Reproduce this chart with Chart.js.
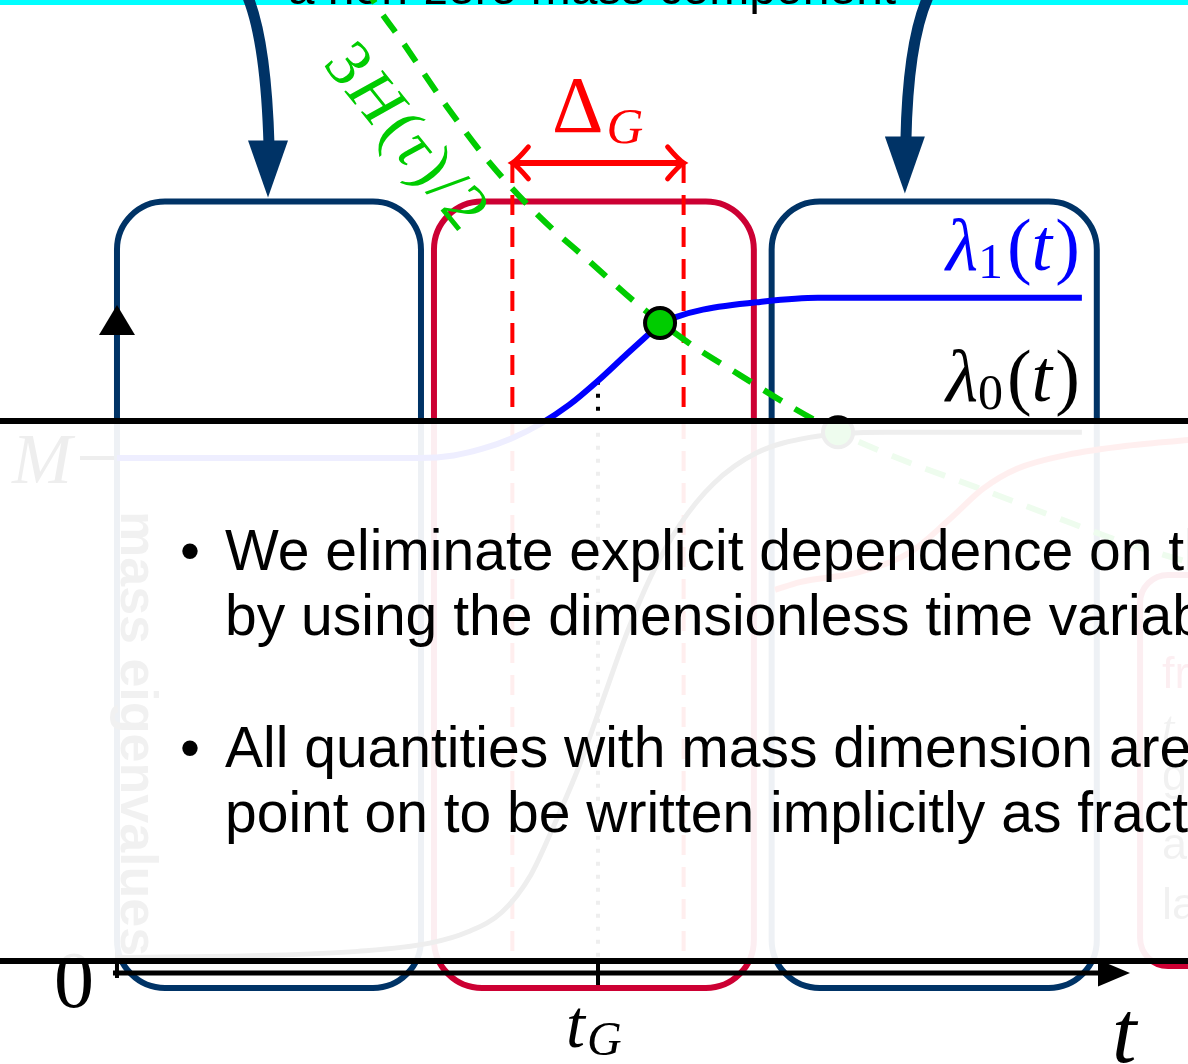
<!DOCTYPE html>
<html>
<head>
<meta charset="utf-8">
<script src="https://cdn.jsdelivr.net/npm/chart.js@4.4.1/dist/chart.umd.min.js"></script>
<style>
  html, body { margin: 0; padding: 0; background: #fff; }
  canvas { display: block; }
</style>
</head>
<body>
<canvas id="stages" width="1188" height="1064"></canvas>
<script>
// time in units of t_G, mass eigenvalues in units of M
const tG = 1.0;
const deltaG = 0.356;
const massM = 1.0;

// heavy eigenvalue lambda_1(t)
const lambda1T = [0, 0.63, 0.70, 0.76, 0.82, 0.88, 0.94, 1.00, 1.06, 1.10, 1.129, 1.16, 1.218, 1.337, 1.457, 2.006];
const lambda1V = [1.0, 1.0, 1.005, 1.018, 1.038, 1.066, 1.103, 1.150, 1.202, 1.236, 1.260, 1.273, 1.288, 1.303, 1.311, 1.311];

// light eigenvalue lambda_0(t)
const lambda0T = [0, 0.30, 0.50, 0.65, 0.73, 0.80, 0.86, 0.91, 0.96, 1.01, 1.06, 1.11, 1.17, 1.24, 1.33, 1.44, 1.60, 2.006];
const lambda0V = [0.030, 0.034, 0.042, 0.058, 0.080, 0.118, 0.190, 0.290, 0.400, 0.530, 0.660, 0.770, 0.870, 0.950, 1.010, 1.040, 1.050, 1.050];

// next stage eigenvalue
const lambda2T = [1.368, 1.420, 1.545, 1.649, 1.732, 1.800, 1.871, 1.975, 2.112, 2.227, 2.30];
const lambda2V = [0.744, 0.759, 0.779, 0.817, 0.882, 0.940, 0.979, 1.006, 1.025, 1.035, 1.040];

// 3H(tau)/2
const hubbleT = [0.515, 0.530, 0.595, 0.686, 0.775, 0.879, 0.983, 1.087, 1.191, 1.295, 1.399, 1.499, 1.628, 1.784, 1.940, 2.096, 2.227];
const hubbleV = [1.920, 1.893, 1.806, 1.682, 1.573, 1.468, 1.381, 1.295, 1.222, 1.161, 1.101, 1.050, 0.998, 0.944, 0.889, 0.835, 0.798];

// where 3H/2 meets the eigenvalues
const crossT = [1.129, 1.499];
const crossV = [1.262, 1.050];

const navy = '#003366';
const crimson = '#cc0033';
const green = '#00cc00';
const serif = '"Liberation Serif", "DejaVu Serif", serif';
const sans = '"Liberation Sans", Arial, sans-serif';

// stage frames, in t units
const stages = [
  { t0: 0.0, t1: 0.632, color: navy },
  { t0: 0.659, t1: 1.324, color: crimson },
  { t0: 1.361, t1: 2.037, color: navy }
];
const boxTopV = 1.498;
const boxBottomV = -0.029;
const axisTopV = 1.297;
const axisEndT = 2.106;
const deltaArrowV = 1.573;
const guideEndV = 0.025;

const zip = (ts, vs) => ts.map((t, i) => ({ x: t, y: vs[i] }));

function runs(ctx, x, y, parts, color) {
  ctx.fillStyle = color;
  ctx.textAlign = 'left';
  ctx.textBaseline = 'alphabetic';
  for (const p of parts) {
    ctx.font = p.f;
    ctx.fillText(p.s, x, y + (p.dy || 0));
    x += ctx.measureText(p.s).width + (p.gap || 0);
  }
}

function roundBox(ctx, x0, y0, x1, y1, r) {
  ctx.beginPath();
  ctx.moveTo(x0 + r, y0);
  ctx.arcTo(x1, y0, x1, y1, r);
  ctx.arcTo(x1, y1, x0, y1, r);
  ctx.arcTo(x0, y1, x0, y0, r);
  ctx.arcTo(x0, y0, x1, y0, r);
  ctx.closePath();
  ctx.stroke();
}

function triangle(ctx, a, b, c) {
  ctx.beginPath();
  ctx.moveTo(a[0], a[1]);
  ctx.lineTo(b[0], b[1]);
  ctx.lineTo(c[0], c[1]);
  ctx.closePath();
  ctx.fill();
}

function bentArrow(ctx, sx, cx, tip, color) {
  ctx.strokeStyle = color;
  ctx.fillStyle = color;
  ctx.lineWidth = 11;
  ctx.beginPath();
  ctx.moveTo(tip[0] + sx, -5);
  ctx.quadraticCurveTo(tip[0] + cx, 40, tip[0] + 1, tip[1] - 52);
  ctx.stroke();
  triangle(ctx, [tip[0] - 20, tip[1] - 57], [tip[0] + 20, tip[1] - 57], tip);
}

const diagram = {
  id: 'diagram',
  beforeDraw(chart) {
    const ctx = chart.ctx;
    ctx.save();
    ctx.fillStyle = '#fff';
    ctx.fillRect(0, 0, chart.width, chart.height);
    ctx.fillStyle = '#00ffff';
    ctx.fillRect(0, 0, chart.width, 5);
    ctx.fillStyle = '#000';
    ctx.font = '48px ' + sans;
    ctx.textAlign = 'center';
    ctx.fillText('a non-zero mass component', 592, 4);
    ctx.restore();
  },
  beforeDatasetsDraw(chart) {
    const { ctx, scales: { x, y } } = chart;
    const X = v => x.getPixelForValue(v);
    const Y = v => y.getPixelForValue(v);
    ctx.save();
    ctx.lineCap = 'butt';

    // vertical axis and the M tick
    ctx.strokeStyle = '#000';
    ctx.lineWidth = 4;
    ctx.beginPath();
    ctx.moveTo(X(0), Y(0) + 5);
    ctx.lineTo(X(0), Y(axisTopV) + 28);
    ctx.stroke();
    ctx.beginPath();
    ctx.moveTo(X(0) - 37, Y(massM));
    ctx.lineTo(X(0), Y(massM));
    ctx.stroke();

    // stage frames
    ctx.lineWidth = 6;
    stages.forEach(s => {
      ctx.strokeStyle = s.color;
      roundBox(ctx, X(s.t0), Y(boxTopV), X(s.t1), Y(boxBottomV), 48);
    });
    ctx.strokeStyle = crimson;
    roundBox(ctx, X(2.127), Y(0.773), chart.width + 60, Y(0.0136), 28);

    // horizontal axis
    ctx.strokeStyle = '#000';
    ctx.fillStyle = '#000';
    ctx.lineWidth = 5;
    ctx.beginPath();
    ctx.moveTo(X(0) - 4, Y(0));
    ctx.lineTo(X(axisEndT) - 30, Y(0));
    ctx.stroke();
    triangle(ctx, [X(axisEndT), Y(0)], [X(axisEndT) - 32, Y(0) - 13.5], [X(axisEndT) - 32, Y(0) + 13.5]);
    triangle(ctx, [X(0), Y(axisTopV)], [X(0) - 18, Y(axisTopV) + 30], [X(0) + 18, Y(axisTopV) + 30]);
    ctx.lineWidth = 4;
    ctx.beginPath();
    ctx.moveTo(X(tG), Y(0) - 10);
    ctx.lineTo(X(tG), Y(0) + 12);
    ctx.stroke();

    // axis labels
    runs(ctx, X(0) - 63, Y(0) + 34, [{ s: '0', f: '80px ' + serif }], '#000');
    runs(ctx, X(0) - 105, Y(massM) + 25, [{ s: 'M', f: 'italic 72px ' + serif }], '#000');
    runs(ctx, X(axisEndT) - 18, Y(0) + 89, [{ s: 't', f: 'italic 88px ' + serif }], '#000');
    runs(ctx, X(tG) - 32, Y(0) + 74, [
      { s: 't', f: 'italic 68px ' + serif, gap: 2 },
      { s: 'G', f: 'italic 48px ' + serif, dy: 8 }
    ], '#000');

    ctx.save();
    ctx.translate(X(0) + 4, Y(massM) + 53);
    ctx.rotate(Math.PI / 2);
    ctx.fillStyle = '#333';
    ctx.font = 'bold 52px ' + sans;
    ctx.fillText('mass eigenvalues', 0, 0);
    ctx.restore();

    // side note frame text
    const nx = X(2.127) + 22;
    runs(ctx, nx, 688, [{ s: 'freeze', f: '45px ' + sans }], crimson);
    runs(ctx, nx, 742, [{ s: 't', f: 'italic 45px ' + serif }], '#333');
    runs(ctx, nx, 790, [{ s: 'g', f: '45px ' + sans }], '#333');
    runs(ctx, nx, 859, [{ s: 'a', f: '45px ' + sans }], '#333');
    runs(ctx, nx, 919, [{ s: 'la', f: '45px ' + sans }], '#333');

    // pointers into the first and last stage
    bentArrow(ctx, -21, -2, [X(0.314), Y(boxTopV) - 4], navy);
    bentArrow(ctx, 24, 3, [X(1.638), Y(boxTopV) - 8], navy);

    // Delta_G span
    const ax0 = X(tG - deltaG / 2), ax1 = X(tG + deltaG / 2), ay = Y(deltaArrowV);
    ctx.strokeStyle = '#ff0000';
    ctx.lineWidth = 6;
    ctx.beginPath();
    ctx.moveTo(ax0 + 2, ay);
    ctx.lineTo(ax1 - 2, ay);
    ctx.stroke();
    ctx.lineWidth = 5;
    ctx.lineCap = 'round';
    [[ax0, 1], [ax1, -1]].forEach(([tx, d]) => {
      ctx.beginPath();
      ctx.moveTo(tx + d * 16, ay - 16);
      ctx.quadraticCurveTo(tx + d * 5, ay - 3, tx, ay);
      ctx.quadraticCurveTo(tx + d * 5, ay + 3, tx + d * 16, ay + 16);
      ctx.stroke();
    });
    runs(ctx, X(tG) - 46, ay - 31, [
      { s: 'Δ', f: '80px ' + serif, gap: 3 },
      { s: 'G', f: 'italic 51px ' + serif, dy: 11 }
    ], '#ff0000');
    ctx.restore();
  },
  afterDatasetsDraw(chart) {
    const { ctx, scales: { x, y } } = chart;
    const X = v => x.getPixelForValue(v);
    const Y = v => y.getPixelForValue(v);
    ctx.save();
    const lx = X(lambda1T[lambda1T.length - 1]) - 136;
    runs(ctx, lx, Y(lambda1V[lambda1V.length - 1]) - 28, [
      { s: 'λ', f: 'italic 74px ' + serif },
      { s: '1', f: '50px ' + serif, dy: 8, gap: 4 },
      { s: '(', f: '74px ' + serif },
      { s: 't', f: 'italic 74px ' + serif, gap: 3 },
      { s: ')', f: '74px ' + serif }
    ], '#0000ff');
    runs(ctx, lx, Y(lambda0V[lambda0V.length - 1]) - 31, [
      { s: 'λ', f: 'italic 74px ' + serif },
      { s: '0', f: '50px ' + serif, dy: 8, gap: 4 },
      { s: '(', f: '74px ' + serif },
      { s: 't', f: 'italic 74px ' + serif, gap: 3 },
      { s: ')', f: '74px ' + serif }
    ], '#000');

    // label along the 3H/2 line
    ctx.translate(X(0.4345) - 4, Y(1.771) + 3);
    ctx.rotate(51 * Math.PI / 180);
    runs(ctx, 0, 0, [
      { s: '3', f: '66px ' + serif, gap: 3 },
      { s: 'H', f: 'italic 66px ' + serif, gap: 5 },
      { s: '(', f: '66px ' + serif, gap: 2 },
      { s: 'τ', f: 'italic 66px ' + serif, gap: 3 },
      { s: ')', f: '66px ' + serif, gap: 3 },
      { s: '/', f: '66px ' + serif, gap: 3 },
      { s: '2', f: '66px ' + serif }
    ], green);
    ctx.restore();
  },
  afterDraw(chart) {
    const ctx = chart.ctx;
    ctx.save();
    // text panel laid over the figure
    ctx.fillStyle = 'rgba(255,255,255,0.935)';
    ctx.fillRect(-10, 421, chart.width + 20, 540);
    ctx.strokeStyle = '#000';
    ctx.lineWidth = 6;
    ctx.beginPath();
    ctx.moveTo(-10, 421);
    ctx.lineTo(chart.width + 10, 421);
    ctx.moveTo(-10, 961);
    ctx.lineTo(chart.width + 10, 961);
    ctx.stroke();

    ctx.fillStyle = '#000';
    ctx.font = '57px ' + sans;
    ctx.textAlign = 'left';
    const lines = [
      ['•', 'We eliminate explicit dependence on the', 570],
      ['', 'by using the dimensionless time variable', 635],
      ['•', 'All quantities with mass dimension are from this', 767],
      ['', 'point on to be written implicitly as fractions of M', 832]
    ];
    lines.forEach(([b, s, by]) => {
      if (b) ctx.fillText(b, 180, by);
      ctx.fillText(s, 225, by);
    });
    ctx.restore();
  }
};

new Chart(document.getElementById('stages'), {
  type: 'scatter',
  data: {
    datasets: [
      {
        label: 'crossings',
        data: zip(crossT, crossV),
        showLine: false,
        pointRadius: 15,
        pointBackgroundColor: green,
        pointBorderColor: '#000',
        pointBorderWidth: 4
      },
      {
        label: 'λ1(t)',
        data: zip(lambda1T, lambda1V),
        showLine: true,
        borderColor: '#0000ff',
        borderWidth: 6,
        cubicInterpolationMode: 'monotone'
      },
      {
        label: 'λ0(t)',
        data: zip(lambda0T, lambda0V),
        showLine: true,
        borderColor: '#000000',
        borderWidth: 5,
        cubicInterpolationMode: 'monotone'
      },
      {
        label: 'λ2(t)',
        data: zip(lambda2T, lambda2V),
        showLine: true,
        borderColor: '#ff1a1a',
        borderWidth: 6,
        cubicInterpolationMode: 'monotone'
      },
      {
        label: '3H(τ)/2',
        data: zip(hubbleT, hubbleV),
        showLine: true,
        borderColor: green,
        borderWidth: 6,
        borderDash: [21, 15],
        cubicInterpolationMode: 'monotone'
      },
      {
        label: 'window start',
        data: [{ x: tG - deltaG / 2, y: deltaArrowV }, { x: tG - deltaG / 2, y: guideEndV }],
        showLine: true,
        borderColor: '#ff0000',
        borderWidth: 4,
        borderDash: [20, 12]
      },
      {
        label: 'window end',
        data: [{ x: tG + deltaG / 2, y: deltaArrowV }, { x: tG + deltaG / 2, y: guideEndV }],
        showLine: true,
        borderColor: '#ff0000',
        borderWidth: 4,
        borderDash: [20, 12]
      },
      {
        label: 't_G',
        data: [{ x: tG, y: 1.15 }, { x: tG, y: guideEndV }],
        showLine: true,
        borderColor: '#000000',
        borderWidth: 4,
        borderDash: [4, 9]
      }
    ]
  },
  options: {
    responsive: false,
    animation: false,
    devicePixelRatio: 1,
    events: [],
    layout: { padding: 0, autoPadding: false },
    elements: {
      point: { radius: 0, hoverRadius: 0 },
      line: { borderCapStyle: 'butt', fill: false }
    },
    plugins: {
      legend: { display: false },
      tooltip: { enabled: false }
    },
    scales: {
      x: { type: 'linear', min: -0.2432, max: 2.2266, display: false },
      y: { type: 'linear', min: -0.1767, max: 1.8893, display: false }
    }
  },
  plugins: [diagram]
});
</script>
</body>
</html>
